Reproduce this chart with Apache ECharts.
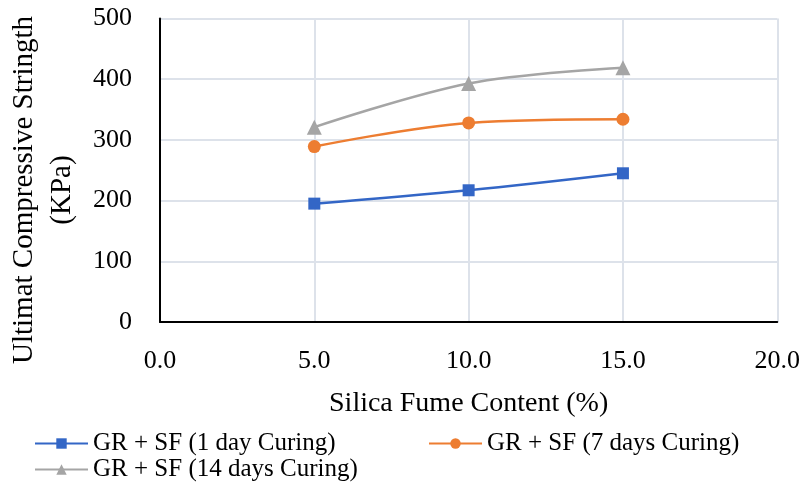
<!DOCTYPE html>
<html>
<head>
<meta charset="utf-8">
<script src="https://cdn.jsdelivr.net/npm/echarts@6/dist/echarts.min.js"></script>
<style>html,body{margin:0;padding:0;background:#fff;}#c{width:803px;height:487px;}</style>
</head>
<body>
<div id="c"></div>
<script>
const silicaFume = [5.0, 10.0, 15.0];
const curing1Day = [195, 217, 245];
const curing7Days = [289, 328, 334];
const curing14Days = [321, 393, 419];
const seriesNames = ['GR + SF (1 day Curing)', 'GR + SF (7 days Curing)', 'GR + SF (14 days Curing)'];
const xTitle = 'Silica Fume Content (%)';
const yTitle = ['Ultimat Compressive Stringth', '(KPa)'];

const FONT = '"Liberation Serif", "DejaVu Serif", serif';
const chart = echarts.init(document.getElementById('c'));
function pairs(vals){ return silicaFume.map((x,i)=>[x, vals[i]]); }
const colors = ['#3366c6', '#ed7d31', '#a5a5a5'];
const symbols = ['rect', 'circle', 'triangle'];
const sizes = [12, 13, 15];
const seriesVals = [curing1Day, curing7Days, curing14Days];

const legendPos = [{left: 29, top: 426}, {left: 423, top: 426}, {left: 29, top: 452}];

chart.setOption({
  animation: false,
  textStyle: {fontFamily: FONT},
  grid: {left: 160, right: 25, top: 18.5, bottom: 165, containLabel: false},
  xAxis: {
    type: 'value', min: 0, max: 20, interval: 5,
    axisLine: {show: true, lineStyle: {color: '#000', width: 2}},
    axisTick: {show: false},
    axisLabel: {color: '#000', fontSize: 26, fontFamily: FONT, margin: 26, formatter: v => v.toFixed(1)},
    splitLine: {show: true, lineStyle: {color: '#dde2ea', width: 2}},
    name: xTitle, nameLocation: 'middle', nameGap: 68,
    nameTextStyle: {color: '#000', fontSize: 28, fontFamily: FONT}
  },
  yAxis: {
    type: 'value', min: 0, max: 500, interval: 100,
    axisLine: {show: true, lineStyle: {color: '#000', width: 2}},
    axisTick: {show: false},
    axisLabel: {color: '#000', fontSize: 26, fontFamily: FONT, margin: 28},
    splitLine: {show: true, lineStyle: {color: '#dde2ea', width: 2}}
  },
  graphic: [{
    type: 'text', x: 43, y: 190, rotation: Math.PI/2,
    style: {text: yTitle.join('\n'), font: '29px ' + FONT, fill: '#000', align: 'center', verticalAlign: 'middle', lineHeight: 38}
  }],
  legend: seriesNames.map((n, i) => ({
    data: [n], left: legendPos[i].left, top: legendPos[i].top,
    itemWidth: 53, itemHeight: 13, itemGap: 6,
    textStyle: {color: '#000', fontSize: 25, fontFamily: FONT}
  })),
  series: seriesNames.map((n, i) => ({
    name: n, type: 'line', data: pairs(seriesVals[i]), smooth: 0.35,
    symbol: symbols[i], symbolSize: sizes[i],
    lineStyle: {color: colors[i], width: 2.5},
    itemStyle: {color: colors[i]}
  }))
});
</script>
</body>
</html>
